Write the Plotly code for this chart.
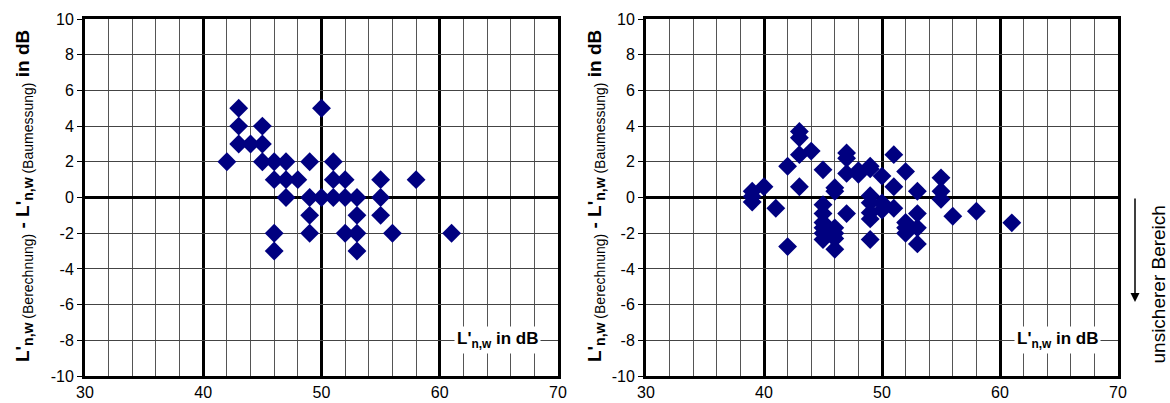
import plotly.graph_objects as go

# left chart: measured L'n,w vs. difference (calculation - measurement), integer dB
x_left = [42, 43, 43, 43, 44, 45, 45, 45, 46, 46, 46, 46, 47, 47, 47, 48, 49, 49, 49, 49,
          50, 50, 51, 51, 51, 52, 52, 52, 53, 53, 53, 53, 55, 55, 55, 56, 58, 61]
y_left = [2, 5, 4, 3, 3, 4, 3, 2, 2, 1, -2, -3, 2, 1, 0, 1, 2, 0, -1, -2,
          5, 0, 2, 1, 0, 1, 0, -2, 0, -1, -2, -3, 1, 0, -1, -2, 1, -2]

# right chart: same with decimal differences
x_right = [39, 39, 39, 40, 41, 42, 42, 43, 43, 43, 43, 44,
           45, 45, 45, 45, 45, 45, 45, 46, 46, 46, 46, 46, 46,
           47, 47, 47, 47, 48, 48, 49, 49, 49, 49, 49, 49, 49,
           50, 50, 50, 51, 51, 51, 52, 52, 52, 52, 53, 53, 53, 53,
           55, 55, 55, 56, 58, 61]
y_right = [0.35, 0.05, -0.25, 0.6, -0.6, 1.75, -2.75, 3.7, 3.35, 2.4, 0.6, 2.6,
           1.55, -0.4, -0.9, -1.4, -1.7, -2.0, -2.35, 0.55, 0.35, -1.7, -2.0, -2.3, -2.9,
           2.5, 2.2, 1.35, -0.9, 1.5, 1.3, 1.75, 1.6, 0.1, -0.3, -0.85, -1.2, -2.35,
           1.2, -0.3, -0.7, 2.4, 0.6, -0.6, 1.45, -1.4, -1.7, -2.0, 0.35, -0.9, -1.7, -2.6,
           1.1, 0.35, -0.1, -1.05, -0.77, -1.42]

x_ticks = [30, 40, 50, 60, 70]
y_ticks = [-10, -8, -6, -4, -2, 0, 2, 4, 6, 8, 10]

navy = "#000080"
fig = go.Figure()
fig.add_trace(go.Scatter(x=x_left, y=y_left, mode="markers", xaxis="x", yaxis="y",
                         marker=dict(symbol="diamond", size=14.5, color=navy)))
fig.add_trace(go.Scatter(x=x_right, y=y_right, mode="markers", xaxis="x2", yaxis="y2",
                         marker=dict(symbol="diamond", size=14.5, color=navy)))

W, H = 1170, 403


def px(x):
    return x / W


def py(y):
    return 1 - y / H


tickfont = dict(family="Liberation Sans, Arial", size=16, color="black")

xa = dict(range=[30, 70], tickvals=x_ticks, ticktext=[str(v) for v in x_ticks],
          showgrid=True, gridcolor="black", gridwidth=3,
          minor=dict(dtick=2, showgrid=True, gridcolor="#555555", gridwidth=1),
          showline=True, linewidth=3, linecolor="black", mirror=True, automargin=False,
          ticks="", zeroline=False, tickfont=tickfont)
ya = dict(range=[-10, 10], tickvals=y_ticks, ticktext=[str(v) for v in y_ticks],
          showgrid=True, gridcolor="#444444", gridwidth=1,
          zeroline=True, zerolinecolor="black", zerolinewidth=3,
          showline=True, linewidth=3, linecolor="black", mirror=True, automargin=False,
          ticks="outside", ticklen=5, tickcolor="black", tickwidth=1, tickfont=tickfont)

fig.update_layout(
    width=W, height=H, margin=dict(l=0, r=0, t=0, b=0),
    paper_bgcolor="white", plot_bgcolor="white", showlegend=False,
    xaxis=dict(xa, domain=[px(85), px(558)], anchor="y"),
    yaxis=dict(ya, domain=[py(376), py(19)], anchor="x"),
    xaxis2=dict(xa, domain=[px(646), px(1118)], anchor="y2"),
    yaxis2=dict(ya, domain=[py(376), py(19)], anchor="x2"),
    font=dict(family="Liberation Sans, Arial", color="black"),
)

sub = '<sub><span style="font-size:14px"><b>n,w</b> ({})</span></sub>'
ytitle = ("<b>L'</b>" + sub.format("Berechnung") + "<b> - L'</b>"
          + sub.format("Baumessung") + "<b> in dB</b>")
for xp in [24, 596]:
    fig.add_annotation(text=ytitle, xref="paper", yref="paper", x=px(xp), y=py(196),
                       xanchor="center", yanchor="middle",
                       textangle=-90, showarrow=False, font=dict(size=19))

xlabel = "<b>L'</b><sub><b>n,w</b></sub><b> in dB</b>"
for xr, yr in [("x", "y"), ("x2", "y2")]:
    fig.add_annotation(text=xlabel, xref=xr, yref=yr, x=64.9, y=-8, showarrow=False,
                       xanchor="center", yanchor="middle",
                       bgcolor="white", font=dict(size=17), borderpad=2)

# arrow for "unsicherer Bereich"
fig.add_annotation(xref="paper", yref="paper", x=px(1135), y=py(302),
                   ax=0, ay=-105, axref="pixel", ayref="pixel",
                   showarrow=True, arrowhead=2, arrowsize=1.2, arrowwidth=1.5,
                   arrowcolor="black", text="")
fig.add_annotation(text="unsicherer Bereich", xref="paper", yref="paper",
                   x=px(1170), y=py(366), xanchor="right", yanchor="bottom",
                   textangle=-90, showarrow=False, font=dict(size=19))

# drop the default page margin so the figure fills the window exactly
fig.write_html("out.html", config={"displayModeBar": False},
               post_script="document.body.style.margin='0';document.body.style.overflow='hidden';")
